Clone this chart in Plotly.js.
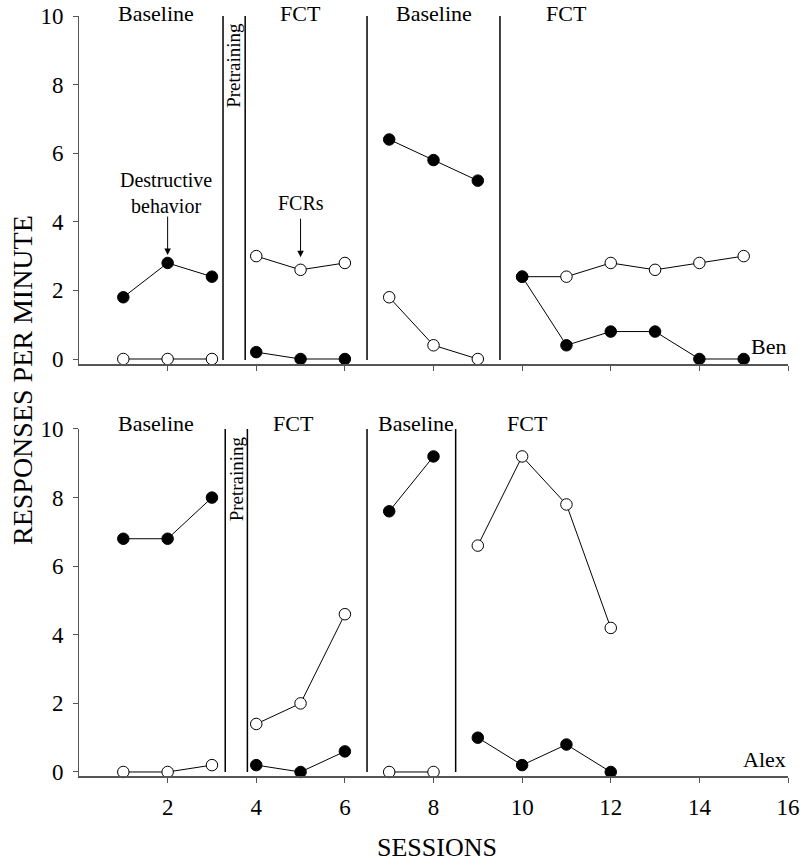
<!DOCTYPE html>
<html>
<head>
<meta charset="utf-8">
<script src="https://cdn.plot.ly/plotly-3.0.1.min.js"></script>
<style>html,body{margin:0;padding:0;background:#fff;}#chart{width:800px;height:862px;}</style>
</head>
<body>
<div id="chart"></div>
<script>
// ---- Data ----
const benSessions      = [1, 2, 3, 4, 5, 6, 7, 8, 9, 10, 11, 12, 13, 14, 15];
const benPhase         = [0, 0, 0, 1, 1, 1, 2, 2, 2, 3, 3, 3, 3, 3, 3];
const benDestructive   = [1.8, 2.8, 2.4, 0.2, 0, 0, 6.4, 5.8, 5.2, 2.4, 0.4, 0.8, 0.8, 0, 0];
const benFCR           = [0, 0, 0, 3.0, 2.6, 2.8, 1.8, 0.4, 0, 2.4, 2.4, 2.8, 2.6, 2.8, 3.0];

const alexSessions     = [1, 2, 3, 4, 5, 6, 7, 8, 9, 10, 11, 12];
const alexPhase        = [0, 0, 0, 1, 1, 1, 2, 2, 3, 3, 3, 3];
const alexDestructive  = [6.8, 6.8, 8.0, 0.2, 0, 0.6, 7.6, 9.2, 1.0, 0.2, 0.8, 0];
const alexFCR          = [0, 0, 0.2, 1.4, 2.0, 4.6, 0, 0, 6.6, 9.2, 7.8, 4.2];

const benPhaseLines    = [3.25, 3.75, 6.5, 9.5];
const alexPhaseLines   = [3.3, 3.8, 6.5, 8.5];
const phaseNames       = ["Baseline", "FCT", "Baseline", "FCT"];
const benLabelX        = [1.73, 5.0, 8.02, 11.0];
const alexLabelX       = [1.73, 4.84, 7.6, 10.12];

const xTicks = [2, 4, 6, 8, 10, 12, 14, 16];
const yTicks = [0, 2, 4, 6, 8, 10];

// ---- Build traces ----
const FONT = "Liberation Serif";
const traces = [];
function addSeries(xs, ys, phases, filled, xa, ya) {
  const uniq = [...new Set(phases)];
  uniq.forEach(p => {
    const px = [], py = [];
    xs.forEach((x, i) => { if (phases[i] === p) { px.push(x); py.push(ys[i]); } });
    traces.push({
      x: px, y: py, xaxis: xa, yaxis: ya, type: "scatter", mode: "lines+markers",
      line: {color: "#000", width: 1},
      marker: {size: 11.5, color: filled ? "#000" : "#fff", line: {color: "#000", width: 1}},
      cliponaxis: false, showlegend: false, hoverinfo: "x+y"
    });
  });
}
addSeries(benSessions, benFCR, benPhase, false, "x", "y");
addSeries(benSessions, benDestructive, benPhase, true, "x", "y");
addSeries(alexSessions, alexFCR, alexPhase, false, "x2", "y2");
addSeries(alexSessions, alexDestructive, alexPhase, true, "x2", "y2");

// ---- Shapes (phase change lines) ----
const shapes = [];
benPhaseLines.forEach(v => shapes.push({type: "line", xref: "x", yref: "y", x0: v, x1: v, y0: -0.03, y1: 10, line: {color: "#000", width: 1.5}}));
alexPhaseLines.forEach(v => shapes.push({type: "line", xref: "x2", yref: "y2", x0: v, x1: v, y0: 0, y1: 10, line: {color: "#000", width: 1.5}}));

// ---- Annotations ----
const annotations = [];
phaseNames.forEach((t, i) => {
  annotations.push({text: t, xref: "x", yref: "y domain", x: benLabelX[i], y: 1.046, yanchor: "top", xanchor: "center", borderpad: 0, showarrow: false, font: {family: FONT, size: 22, color: "#000"}});
  annotations.push({text: t, xref: "x2", yref: "y2 domain", x: alexLabelX[i], y: 1.017, yanchor: "middle", xanchor: "center", showarrow: false, font: {family: FONT, size: 22, color: "#000"}});
});
annotations.push({text: "Pretraining", xref: "x", yref: "y", x: 3.5, y: 8.55, textangle: -90, showarrow: false, font: {family: FONT, size: 19, color: "#000"}});
annotations.push({text: "Pretraining", xref: "x2", yref: "y2", x: 3.55, y: 8.54, textangle: -90, showarrow: false, font: {family: FONT, size: 19, color: "#000"}});
annotations.push({text: "Destructive<br>behavior", xref: "x", yref: "y", x: 1.97, y: 4.85, showarrow: false, font: {family: FONT, size: 20, color: "#000"}});
annotations.push({text: "", xref: "x", yref: "y", x: 2, y: 3.03, ax: 0, ay: -40, showarrow: true, arrowhead: 2, arrowsize: 1.3, arrowwidth: 1, arrowcolor: "#000", standoff: 0, startstandoff: 0});
annotations.push({text: "FCRs", xref: "x", yref: "y", x: 5.0, y: 4.55, showarrow: false, font: {family: FONT, size: 20, color: "#000"}});
annotations.push({text: "", xref: "x", yref: "y", x: 5, y: 2.97, ax: 0, ay: -40, showarrow: true, arrowhead: 2, arrowsize: 1.3, arrowwidth: 1, arrowcolor: "#000", standoff: 0, startstandoff: 0});
annotations.push({text: "Ben", xref: "x", yref: "y", x: 16, y: 0.35, xanchor: "right", showarrow: false, font: {family: FONT, size: 22, color: "#000"}});
annotations.push({text: "Alex", xref: "x2", yref: "y2", x: 16, y: 0.35, xanchor: "right", showarrow: false, font: {family: FONT, size: 22, color: "#000"}});
annotations.push({text: "RESPONSES PER MINUTE", xref: "paper", yref: "paper", x: -0.0804, y: 0.521, xanchor: "center", yanchor: "middle", textangle: -90, showarrow: false, font: {family: FONT, size: 28, color: "#000"}});
annotations.push({text: "SESSIONS", xref: "paper", yref: "paper", x: 0.505, y: -0.094, xanchor: "center", yanchor: "middle", showarrow: false, font: {family: FONT, size: 26, color: "#000"}});

// ---- Axes ----
function xAxis(anchor, labels) {
  return {anchor: anchor, domain: [0, 1], range: [0, 16], tickmode: "array", tickvals: xTicks, ticktext: xTicks.map(String),
    ticks: "outside", ticklen: 5, tickwidth: 1, tickcolor: "#555", showline: true, linecolor: "#555", linewidth: 1.5,
    showgrid: false, zeroline: false, showticklabels: labels, ticklabelstandoff: 5,
    tickfont: {family: FONT, size: 23, color: "#000"}};
}
function yAxis(anchor, domain, rmin) {
  return {anchor: anchor, domain: domain, range: [rmin, 10], tickmode: "array", tickvals: yTicks, ticktext: yTicks.map(String),
    ticks: "outside", ticklen: 5, tickwidth: 1, tickcolor: "#555", showline: true, linecolor: "#555", linewidth: 1,
    showgrid: false, zeroline: false, ticklabelstandoff: 5,
    tickfont: {family: FONT, size: 23, color: "#000"}};
}

const layout = {
  width: 800, height: 862,
  margin: {l: 79, r: 12, t: 16, b: 86},
  paper_bgcolor: "#fff", plot_bgcolor: "#fff",
  showlegend: false,
  xaxis: xAxis("y", false),
  yaxis: yAxis("x", [0.5421, 1], -0.146),
  xaxis2: xAxis("y2", true),
  yaxis2: yAxis("x2", [0, 0.4566], -0.117),
  shapes: shapes,
  annotations: annotations
};

Plotly.newPlot("chart", traces, layout, {displayModeBar: false, staticPlot: true});
</script>
</body>
</html>
